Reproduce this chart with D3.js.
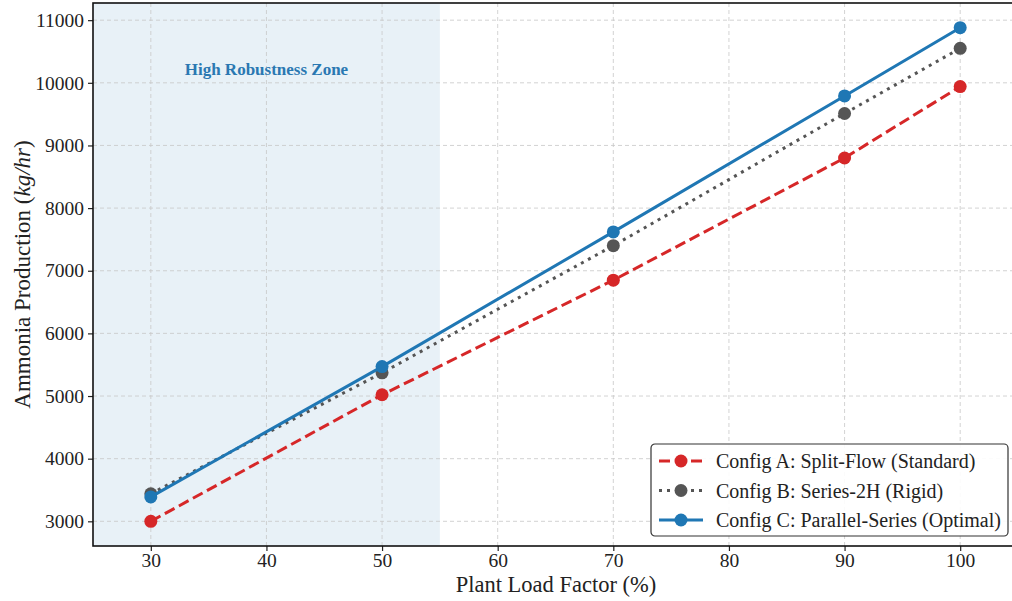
<!DOCTYPE html>
<html>
<head>
<meta charset="utf-8">
<script src="https://cdn.jsdelivr.net/npm/d3@7"></script>
<style>
  body { margin: 0; background: #fff; }
  svg { display: block; font-family: "Liberation Serif", "DejaVu Serif", serif; }
</style>
</head>
<body>
<script>
// chart data
const loadFactor = [30, 50, 70, 90, 100];
const configA = [3000, 5020, 6850, 8800, 9940];
const configB = [3440, 5370, 7400, 9510, 10550];
const configC = [3390, 5470, 7620, 9790, 10880];
const seriesNames = [
  'Config A: Split-Flow (Standard)',
  'Config B: Series-2H (Rigid)',
  'Config C: Parallel-Series (Optimal)'
];
const xTicks = [30, 40, 50, 60, 70, 80, 90, 100];
const yTicks = [3000, 4000, 5000, 6000, 7000, 8000, 9000, 10000, 11000];
const zone = [25, 55];

const width = 1012;
const height = 601;
const margin = {top: 3, right: -6, bottom: 55, left: 93};

const svg = d3.select('body')
  .append('svg')
  .attr('width', width)
  .attr('height', height);

const x = d3.scaleLinear()
  .domain([25, 105])
  .range([margin.left, width - margin.right]);
const y = d3.scaleLinear()
  .domain([2606, 11274])
  .range([height - margin.bottom, margin.top]);

const series = [
  {name: seriesNames[0], values: configA, color: '#d62728', dash: '11,5'},
  {name: seriesNames[1], values: configB, color: '#555555', dash: '3,5'},
  {name: seriesNames[2], values: configC, color: '#1f77b4', dash: null}
];

// shaded zone
svg.append('rect')
  .attr('x', x(zone[0]))
  .attr('y', margin.top)
  .attr('width', x(zone[1]) - x(zone[0]))
  .attr('height', y.range()[0] - margin.top)
  .attr('fill', '#1f77b4')
  .attr('fill-opacity', 0.1);

// grid
const grid = svg.append('g').attr('stroke', '#c8c8c8').attr('stroke-width', 0.8)
  .attr('stroke-dasharray', '4,3');
grid.selectAll('.gx').data(xTicks).enter().append('line')
  .attr('x1', d => x(d)).attr('x2', d => x(d))
  .attr('y1', margin.top).attr('y2', y.range()[0]);
grid.selectAll('.gy').data(yTicks).enter().append('line')
  .attr('x1', margin.left).attr('x2', width)
  .attr('y1', d => y(d)).attr('y2', d => y(d));

// annotation
svg.append('text')
  .attr('x', x(40))
  .attr('y', 75)
  .attr('text-anchor', 'middle')
  .attr('font-weight', 'bold')
  .attr('font-size', 17)
  .attr('fill', '#2a78b2')
  .text('High Robustness Zone');

// lines and markers
const line = d3.line()
  .x((d, i) => x(loadFactor[i]))
  .y(d => y(d));

series.forEach(s => {
  svg.append('path')
    .datum(s.values)
    .attr('d', line)
    .attr('fill', 'none')
    .attr('stroke', s.color)
    .attr('stroke-width', 3)
    .attr('stroke-dasharray', s.dash);
  svg.append('g').selectAll('circle')
    .data(s.values)
    .enter().append('circle')
    .attr('cx', (d, i) => x(loadFactor[i]))
    .attr('cy', d => y(d))
    .attr('r', 6.5)
    .attr('fill', s.color);
});

// axes
const xAxis = svg.append('g')
  .attr('transform', `translate(0,${y.range()[0]})`)
  .call(d3.axisBottom(x).tickValues(xTicks).tickSize(5).tickPadding(2));
const yAxis = svg.append('g')
  .attr('transform', `translate(${margin.left},0)`)
  .call(d3.axisLeft(y).tickValues(yTicks).tickFormat(d3.format('d')).tickSize(5).tickPadding(4));
[xAxis, yAxis].forEach(a => {
  a.selectAll('text').attr('font-size', 19.5).attr('fill', '#222')
    .attr('font-family', '"Liberation Serif", serif');
  a.selectAll('.tick line').attr('stroke', '#222').attr('stroke-width', 1.2);
  a.select('.domain').remove();
});

// frame
svg.append('rect')
  .attr('x', margin.left)
  .attr('y', margin.top)
  .attr('width', x.range()[1] - margin.left)
  .attr('height', y.range()[0] - margin.top)
  .attr('fill', 'none')
  .attr('stroke', '#111')
  .attr('stroke-width', 1.6);

// axis labels
svg.append('text')
  .attr('x', 556)
  .attr('y', 592)
  .attr('text-anchor', 'middle')
  .attr('font-size', 22.5)
  .attr('fill', '#222')
  .text('Plant Load Factor (%)');

const yl = svg.append('text')
  .attr('transform', `translate(30,${(margin.top + y.range()[0]) / 2}) rotate(-90)`)
  .attr('text-anchor', 'middle')
  .attr('font-size', 23)
  .attr('fill', '#222');
yl.append('tspan').text('Ammonia Production (');
yl.append('tspan').attr('font-style', 'italic').text('kg/hr');
yl.append('tspan').text(')');

// legend
const lg = svg.append('g').attr('transform', 'translate(651,444)');
lg.append('rect')
  .attr('width', 357)
  .attr('height', 92)
  .attr('rx', 4)
  .attr('fill', '#fff')
  .attr('fill-opacity', 0.9)
  .attr('stroke', '#333')
  .attr('stroke-width', 1.2);
series.forEach((s, i) => {
  const row = lg.append('g').attr('transform', `translate(0,${17 + i * 29.5})`);
  row.append('line')
    .attr('x1', 8).attr('x2', 52)
    .attr('stroke', s.color)
    .attr('stroke-width', 3)
    .attr('stroke-dasharray', s.dash);
  row.append('circle').attr('cx', 30).attr('r', 6.5).attr('fill', s.color);
  row.append('text')
    .attr('x', 65)
    .attr('y', 7)
    .attr('font-size', 20)
    .attr('fill', '#222')
    .text(s.name);
});
</script>
</body>
</html>
